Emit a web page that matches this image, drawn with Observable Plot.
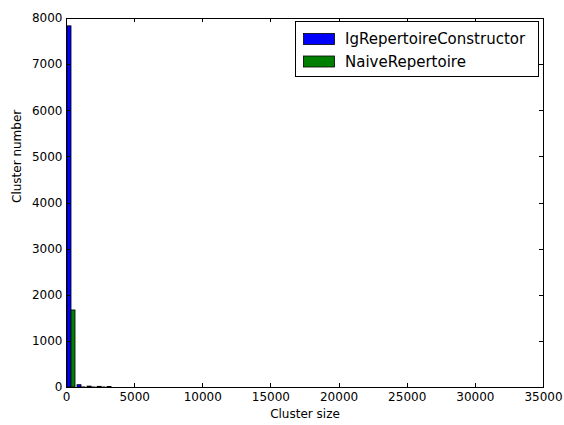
<!DOCTYPE html>
<html><head><meta charset="utf-8">
<script src="https://cdn.jsdelivr.net/npm/d3@7"></script>
<script src="https://cdn.jsdelivr.net/npm/@observablehq/plot@0.6"></script>
<style>body{margin:0;background:#fff;} svg{font-family:"DejaVu Sans",sans-serif;}</style>
</head><body><div id="chart"></div>
<script>
// Histogram bins (cluster size) and counts per series
const binStarts = [0, 735, 1470, 2205, 2940];
const binWidth = 735;
const seriesNames = ["IgRepertoireConstructor", "NaiveRepertoire"];
const seriesColors = ["#0000ff", "#008000"];
const igCounts = [7830, 50, 20, 15, 12];
const naiveCounts = [1670, 2, 1, 1, 0];
const xTicks = [0, 5000, 10000, 15000, 20000, 25000, 30000, 35000];
const yTicks = [0, 1000, 2000, 3000, 4000, 5000, 6000, 7000, 8000];
const xLabel = "Cluster size";
const yLabel = "Cluster number";

const rows = [];
binStarts.forEach((s, i) => {
  rows.push({series: seriesNames[0], x1: s + 0.1 * binWidth, x2: s + 0.5 * binWidth, count: igCounts[i]});
  rows.push({series: seriesNames[1], x1: s + 0.5 * binWidth, x2: s + 0.9 * binWidth, count: naiveCounts[i]});
});

const W = 564, H = 425, ML = 66, MR = 21, MT = 18, MB = 38;

const plot = Plot.plot({
  width: W, height: H,
  marginLeft: ML, marginRight: MR, marginTop: MT, marginBottom: MB,
  style: {fontFamily: "DejaVu Sans", fontSize: "12px", background: "white", color: "black"},
  x: {domain: [0, 35000], label: null},
  y: {domain: [0, 8000], label: null},
  color: {domain: seriesNames, range: seriesColors},
  marks: [
    Plot.rectY(rows, {x1: "x1", x2: "x2", y: "count", fill: "series", stroke: "black", strokeWidth: 0.8, inset: 0}),
    Plot.frame({stroke: "black", strokeWidth: 1}),
    Plot.axisX({ticks: xTicks, tickSize: 0, tickPadding: 5, tickFormat: d => String(d), label: null}),
    Plot.axisY({ticks: yTicks, tickSize: 0, tickPadding: 4, tickFormat: d => String(d), label: null}),
    Plot.text([xLabel], {frameAnchor: "bottom", dy: 30, text: d => d, fontSize: 12}),
    Plot.text([yLabel], {frameAnchor: "left", dx: -49, rotate: -90, text: d => d, fontSize: 12})
  ]
});

document.getElementById("chart").appendChild(plot);

// inward ticks on all four sides (matplotlib classic style)
const sx = plot.scale("x"), sy = plot.scale("y");
const svg = d3.select(plot);
const tg = svg.append("g").attr("stroke", "black").attr("stroke-width", 1);
const x0 = ML, x1 = W - MR, y0 = MT, y1 = H - MB, tl = 4;
xTicks.forEach(v => {
  const px = Math.round(sx.apply(v)) + 0.5;
  tg.append("line").attr("x1", px).attr("x2", px).attr("y1", y1).attr("y2", y1 - tl);
  tg.append("line").attr("x1", px).attr("x2", px).attr("y1", y0).attr("y2", y0 + tl);
});
yTicks.forEach(v => {
  const py = Math.round(sy.apply(v)) + 0.5;
  tg.append("line").attr("y1", py).attr("y2", py).attr("x1", x0).attr("x2", x0 + tl);
  tg.append("line").attr("y1", py).attr("y2", py).attr("x1", x1).attr("x2", x1 - tl);
});

// legend box (upper right)
const lg = svg.append("g").attr("text-anchor", "start");
lg.append("rect").attr("x", 295.5).attr("y", 21.5).attr("width", 243).attr("height", 55)
  .attr("fill", "white").attr("stroke", "black").attr("stroke-width", 1);
seriesNames.forEach((name, i) => {
  const cy = 39 + i * 22.5;
  lg.append("rect").attr("x", 303.5).attr("y", cy - 5.5).attr("width", 31).attr("height", 11)
    .attr("fill", seriesColors[i]).attr("stroke", "black").attr("stroke-width", 0.8);
  lg.append("text").attr("x", 345).attr("y", cy).attr("dy", "0.35em").attr("text-anchor", "start")
    .attr("font-size", 15).attr("fill", "black").text(name);
});
</script>
</body></html>
